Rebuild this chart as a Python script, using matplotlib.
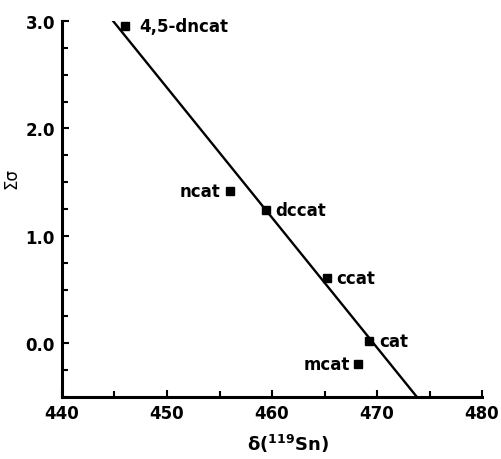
import matplotlib
matplotlib.use("Agg")
import matplotlib.pyplot as plt
from matplotlib.ticker import MultipleLocator

names = ["4,5-dncat", "ncat", "dccat", "ccat", "cat", "mcat"]
delta_sn = [446.0, 456.0, 459.4, 465.2, 469.2, 468.2]
sigma = [2.95, 1.42, 1.24, 0.61, 0.02, -0.19]
label_side = ["right", "left", "right", "right", "right", "left"]
label_gap = [10, 7, 7, 7, 8, 6]

line_x = [444.7, 473.8]
line_y = [3.02, -0.50]

x_ticks = [440, 450, 460, 470, 480]
y_ticks = [0.0, 1.0, 2.0, 3.0]

plt.rcParams['font.family'] = ['DejaVu Sans']
plt.rcParams['font.weight'] = 'bold'
plt.rcParams['mathtext.default'] = 'bf'

fig = plt.figure(figsize=(5.02, 4.60), dpi=100)
ax = fig.add_axes([0.1235, 0.1348, 0.8367, 0.8174])

ax.plot(line_x, line_y, color='black', lw=1.7, solid_capstyle='butt', zorder=2)
ax.plot(delta_sn, sigma, 's', color='black', ms=6.2, zorder=3)

for n, x, y, side, g in zip(names, delta_sn, sigma, label_side, label_gap):
    if side == "right":
        ax.annotate(n, (x, y), xytext=(g, 0), textcoords='offset points',
                    ha='left', va='center', fontsize=12, fontweight='bold')
    else:
        ax.annotate(n, (x, y), xytext=(-g, 0), textcoords='offset points',
                    ha='right', va='center', fontsize=12, fontweight='bold')

ax.set_xlim(440, 480)
ax.set_ylim(-0.5, 3.0)
ax.set_xticks(x_ticks)
ax.set_yticks(y_ticks)
ax.set_yticklabels([f"{v:.1f}" for v in y_ticks])
ax.xaxis.set_minor_locator(MultipleLocator(5))
ax.yaxis.set_minor_locator(MultipleLocator(0.25))

ax.spines['top'].set_visible(False)
ax.spines['right'].set_visible(False)
ax.spines['left'].set_linewidth(2.2)
ax.spines['bottom'].set_linewidth(2.2)
ax.tick_params(which='both', direction='in', width=1.5, labelsize=12, pad=5)
ax.tick_params(which='major', length=5)
ax.tick_params(which='minor', length=4)
for lab in ax.get_xticklabels() + ax.get_yticklabels():
    lab.set_fontweight('bold')

ax.set_xlabel(r"δ($^{119}$Sn)", fontsize=13, fontweight='bold')
ax.set_ylabel("Σσ", fontsize=12, fontweight='normal')
ax.xaxis.set_label_coords(0.537, -0.092)
ax.yaxis.set_label_coords(-0.100, 0.585)

fig.savefig("out.png", dpi=100)
